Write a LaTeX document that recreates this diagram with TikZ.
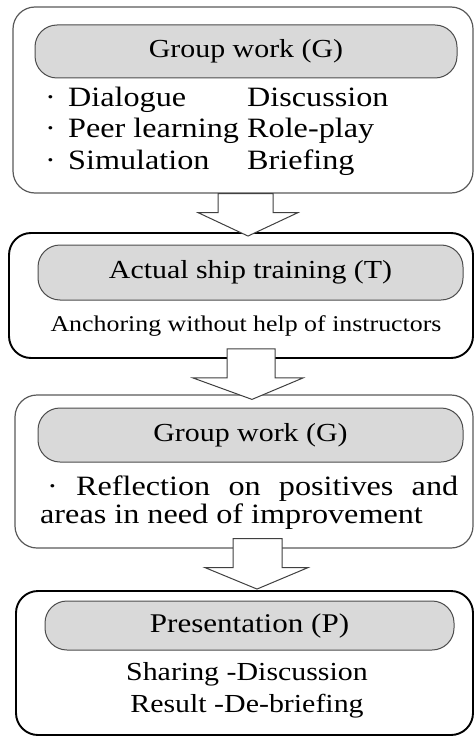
\documentclass[tikz,border=0pt]{standalone}
\usepackage{fontspec}
\setmainfont[FakeStretch=1.15]{Liberation Serif}
\usetikzlibrary{calc}
\begin{document}
\begin{tikzpicture}[x=1pt,y=-1pt,
  thinbox/.style={draw=black!65,line width=1.2pt,rounded corners=22pt,inner sep=0pt},
  thickbox/.style={draw=black,line width=1.9pt,rounded corners=22pt,inner sep=0pt},
  pill/.style={draw=black!70,fill=black!15,line width=1pt,rounded corners=22pt,inner sep=0pt},
  blockarrow/.style={draw=black!75,fill=white,line width=1pt,line join=miter},
  hdr/.style={font=\fontsize{26}{30}\selectfont,inner sep=0pt},
  txt/.style={inner sep=0pt,anchor=base west}]
\useasboundingbox (0,0) rectangle (475,738);
% outer boxes
\node[thinbox, minimum width=460pt, minimum height=186pt] (b1) at (243,100) {};
\node[thickbox, minimum width=464pt, minimum height=125pt] (b2) at (241,295.5) {};
\node[thinbox, minimum width=458pt, minimum height=153pt] (b3) at (244,471.5) {};
\node[thickbox, minimum width=457pt, minimum height=144pt] (b4) at (244.5,663) {};
% pills
\node[pill, minimum width=422pt, minimum height=53pt] (p1) at (246,51.5) {};
\node[pill, minimum width=425pt, minimum height=55pt] (p2) at (250.5,272.5) {};
\node[pill, minimum width=425pt, minimum height=54pt] (p3) at (250.5,435) {};
\node[pill, minimum width=409pt, minimum height=49pt] (p4) at (249.5,625.5) {};
% headers
\node[hdr] (h1) at (p1) {Group work (G)};
\node[hdr] (h2) at (p2) {Actual ship training (T)};
\node[hdr] (h3) at (p3) {Group work (G)};
\node[hdr, font=\fontsize{27}{30}\selectfont] (h4) at (p4) {Presentation (P)};
% box 1 list
\begin{scope}[every node/.style={txt,font=\fontsize{28}{32}\selectfont}]
\node (d1) at (45,107) {·};
\node (d2) at (45,138) {·};
\node (d3) at (45,170) {·};
\node (l1) at (68,107) {Dialogue};
\node (l2) at (68,138) {Peer learning};
\node (l3) at (68,170) {Simulation};
\node (r1) at (247,107) {Discussion};
\node (r2) at (247,138) {Role-play};
\node (r3) at (247,170) {Briefing};
\end{scope}
% box 2 text
\node[inner sep=0pt, font=\fontsize{22.5}{26}\selectfont] (t2) at (246,326) {Anchoring without help of instructors};
% box 3 text
\node[txt, font=\fontsize{28}{32}\selectfont] (t3a) at (47,495) {\makebox[411pt][s]{· Reflection on positives and}};
\node[txt, font=\fontsize{28}{32}\selectfont] (t3b) at (40,523) {areas in need of improvement};
% box 4 text
\node[inner sep=0pt, font=\fontsize{26}{30}\selectfont] (t4a) at (247,674) {Sharing -Discussion};
\node[inner sep=0pt, font=\fontsize{26}{30}\selectfont] (t4b) at (247,706) {Result -De-briefing};
% block arrows
\draw[blockarrow] ($(b1.south)+(-25,0)$) -- ($(b1.south)+(30,0)$) -- ($(b1.south)+(30,19)$) -- ($(b1.south)+(55,19)$)
  -- ($(b2.north)+(7,4)$) -- ($(b1.south)+(-45,19)$) -- ($(b1.south)+(-25,19)$) -- cycle;
\draw[blockarrow] ($(b2.south)+(-14,-10)$) -- ($(b2.south)+(34,-10)$) -- ($(b2.south)+(34,19)$) -- ($(b2.south)+(62,19)$)
  -- ($(b3.north)+(8,5)$) -- ($(b2.south)+(-48,19)$) -- ($(b2.south)+(-14,19)$) -- cycle;
\draw[blockarrow] ($(b3.south)+(-11,-10)$) -- ($(b3.south)+(38,-10)$) -- ($(b3.south)+(38,19)$) -- ($(b3.south)+(64,19)$)
  -- ($(b4.north)+(12.5,-1)$) -- ($(b3.south)+(-39,19)$) -- ($(b3.south)+(-11,19)$) -- cycle;
\end{tikzpicture}
\end{document}
